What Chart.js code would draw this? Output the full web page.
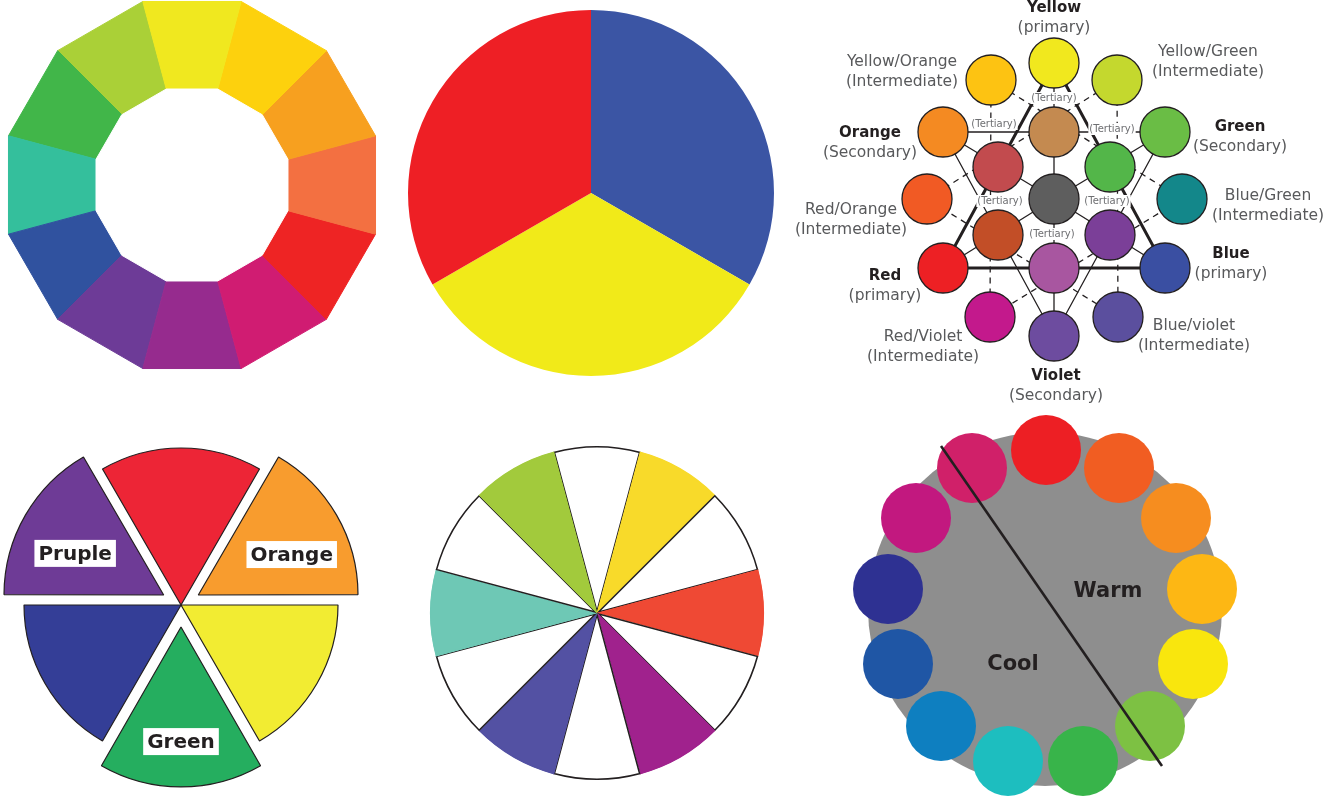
<!DOCTYPE html>
<html>
<head>
<meta charset="utf-8">
<title>Color wheels</title>
<script src="https://cdn.jsdelivr.net/npm/chart.js@4.4.1/dist/chart.umd.min.js"></script>
<style>
  html, body { margin: 0; padding: 0; background: #ffffff; }
  #page { position: relative; width: 1338px; height: 803px; overflow: hidden; background: #ffffff; }
  canvas { position: absolute; }
</style>
</head>
<body>
<div id="page">
  <canvas id="ringWheel" width="380" height="380" style="left:2px;top:-5px"></canvas>
  <canvas id="primaryPie" width="382" height="386" style="left:400px;top:0px"></canvas>
  <canvas id="mixDiagram" width="558" height="405" style="left:780px;top:0px"></canvas>
  <canvas id="explodedPie" width="362" height="370" style="left:0px;top:420px"></canvas>
  <canvas id="splitPie" width="360" height="360" style="left:417px;top:433px"></canvas>
  <canvas id="tempWheel" width="410" height="398" style="left:840px;top:405px"></canvas>
</div>
<script>
/* ---------- data ---------- */
// 1. 12-step ring, clockwise from the top
var ringNames = ["Yellow", "Yellow-Orange", "Orange", "Red-Orange", "Red", "Red-Violet",
  "Violet", "Blue-Violet", "Blue", "Blue-Green", "Green", "Yellow-Green"];
var ringColors = ["#F0E81F", "#FDD10D", "#F7A01F", "#F37041", "#EE2424", "#D01C72",
  "#962B8E", "#6D3B97", "#30529F", "#34BF9C", "#41B649", "#AAD037"];
var ringOuter = 100; // outer corner of each cell
var ringInner = 52.3; // corner of the white hole

// 2. primaries
var primaryNames = ["Blue", "Yellow", "Red"];
var primaryValues = [1, 1, 1];
var primaryColors = ["#3B55A4", "#F1EA19", "#EE1F25"];

// 3. mixing diagram (x right, y up, gray hub at 0,0)
var mixNames = ["Yellow", "Yellow/Green", "Green", "Blue/Green", "Blue", "Blue/violet",
  "Violet", "Red/Violet", "Red", "Red/Orange", "Orange", "Yellow/Orange"];
var mixKinds = ["(primary)", "(Intermediate)", "(Secondary)", "(Intermediate)", "(primary)", "(Intermediate)",
  "(Secondary)", "(Intermediate)", "(primary)", "(Intermediate)", "(Secondary)", "(Intermediate)"];
var mixX = [0, 63, 111, 128, 111, 64, 0, -64, -111, -127, -111, -63];
var mixY = [136, 119, 67, 0, -69, -118, -137, -118, -69, 0, 67, 119];
var mixColors = ["#F1E81E", "#C4D82E", "#6ABD45", "#13878A", "#3A4FA2", "#5B4F9E",
  "#6D4C9F", "#C3198C", "#ED2024", "#F15A24", "#F48A22", "#FDC312"];
var tertX = [0, 56, 56, 0, -56, -56];
var tertY = [67, 32, -36, -69, -36, 32];
var tertColors = ["#C48A50", "#53B649", "#7B3F98", "#A856A0", "#C24E27", "#C24B4E"];
var hubColor = "#5E5E5E";
var primaryTriangle = [0, 8, 4, 0]; // Yellow - Red - Blue
var secondaryTriangle = [2, 6, 10, 2]; // Green - Violet - Orange
var spokes = [0, 2, 4, 6, 8, 10]; // to the hub
var dashTriangleA = [11, 3, 7, 11]; // Yellow/Orange - Blue/Green - Red/Violet
var dashTriangleB = [1, 9, 5, 1]; // Yellow/Green - Red/Orange - Blue/violet

// 4. exploded six-colour pie, clockwise from the top slice
var sixNames = ["Red", "Orange", "Yellow", "Green", "Blue", "Pruple"];
var sixValues = [1, 1, 1, 1, 1, 1];
var sixColors = ["#ED2536", "#F89C2E", "#F2EC32", "#25AE5F", "#343E97", "#6E3B96"];
var sixOffsets = [0, 80, 0, 88, 0, 80];

// 5. split-complement pie, clockwise from the top slice
var splitNames = ["", "Yellow", "", "Red-Orange", "", "Violet", "", "Blue-Violet", "", "Blue-Green", "", "Yellow-Green"];
var splitValues = [1, 1, 1, 1, 1, 1, 1, 1, 1, 1, 1, 1];
var splitColors = ["#FFFFFF", "#F8DA2A", "#FFFFFF", "#EF4934", "#FFFFFF", "#A0228D",
  "#FFFFFF", "#5351A3", "#FFFFFF", "#6EC8B5", "#FFFFFF", "#A2CA3C"];

// 6. warm / cool wheel (x right, y up, gray disc at 0,0)
var tempNames = ["Red", "Red-Orange", "Orange", "Yellow-Orange", "Yellow", "Yellow-Green", "Green",
  "Cyan", "Blue", "Dark Blue", "Indigo", "Magenta", "Crimson"];
var tempX = [1, 74, 131, 157, 148, 105, 38, -37, -104, -147, -157, -129, -73];
var tempY = [159, 141, 91, 20, -55, -117, -152, -152, -117, -55, 20, 91, 141];
var tempColors = ["#ED1F24", "#F15D22", "#F68D1F", "#FDB714", "#F9E60D", "#7DC143", "#38B44A",
  "#1DBEBF", "#0E7FC0", "#1F56A5", "#2E3192", "#C2187F", "#D02069"];
var tempDivider = [{ x: -104, y: 163 }, { x: 117, y: -157 }];
var tempText = [{ text: "Warm", x: 63, y: 17 }, { text: "Cool", x: -32, y: -56 }];

/* ---------- shared bits ---------- */
var FONT = "'DejaVu Sans', sans-serif";
var INK = "#231F20";
var quiet = {
  legend: { display: false },
  tooltip: { enabled: false },
};
function hiddenLinear(min, max) {
  return { type: "linear", min: min, max: max, display: false };
}

/* ---------- 1. ring (radar so the cells get straight edges) ---------- */
var ringDatasets = [
  {
    label: "hole",
    data: ringNames.map(function () { return ringInner; }),
    backgroundColor: "#ffffff",
    borderColor: "#ffffff",
    borderWidth: 1,
    fill: true,
    pointRadius: 0,
  },
];
ringNames.forEach(function (name, i) {
  ringDatasets.push({
    label: name,
    data: ringNames.map(function (n, j) {
      return j === i || j === (i + 1) % ringNames.length ? ringOuter : 0;
    }),
    backgroundColor: ringColors[i],
    borderColor: ringColors[i],
    borderWidth: 1,
    fill: true,
    pointRadius: 0,
  });
});
new Chart(document.getElementById("ringWheel").getContext("2d"), {
  type: "radar",
  data: { labels: ringNames, datasets: ringDatasets },
  options: {
    responsive: false,
    animation: false,
    layout: { padding: 0 },
    plugins: quiet,
    scales: {
      r: { min: 0, max: ringOuter, startAngle: -15, display: false },
    },
  },
});

/* ---------- 2. three primaries ---------- */
new Chart(document.getElementById("primaryPie").getContext("2d"), {
  type: "pie",
  data: {
    labels: primaryNames,
    datasets: [
      {
        data: primaryValues,
        backgroundColor: primaryColors,
        borderWidth: 0,
        radius: 183,
      },
    ],
  },
  options: { responsive: false, animation: false, layout: { padding: 0 }, plugins: quiet },
});

/* ---------- 3. mixing diagram ---------- */
function pathOf(idx) {
  return idx.map(function (i) { return { x: mixX[i], y: mixY[i] }; });
}
function lineSet(points, width, dash) {
  return {
    data: points,
    showLine: true,
    borderColor: INK,
    borderWidth: width,
    borderDash: dash || [],
    pointRadius: 0,
    order: 2,
    clip: false,
  };
}
var mixLines = [
  lineSet(pathOf(primaryTriangle), 3),
  lineSet(pathOf(secondaryTriangle), 1.3),
  lineSet(pathOf(dashTriangleA), 1.3, [6, 5]),
  lineSet(pathOf(dashTriangleB), 1.3, [6, 5]),
];
spokes.forEach(function (i) {
  mixLines.push(lineSet([{ x: mixX[i], y: mixY[i] }, { x: 0, y: 0 }], 1.3));
});
var mixDots = mixX.map(function (x, i) { return { x: x, y: mixY[i] }; })
  .concat(tertX.map(function (x, i) { return { x: x, y: tertY[i] }; }))
  .concat([{ x: 0, y: 0 }]);
var mixDotColors = mixColors.concat(tertColors).concat([hubColor]);

// label layout: name offsets from each circle, "(Tertiary)" offsets from each inner circle
var nameDX = [0, 91, 75, 86, 66, 76, 2, -67, -58, -76, -73, -89];
var nameDY = [55, 28, 5, 3, 14, -9, -40, -20, -8, -11, -1, 18];
var tertDX = [0, 2, -3, -2, 2, -4];
var tertDY = [34, 38, 34, 34, 34, 43];

var mixLabels = {
  id: "mixLabels",
  beforeDatasetDraw: function (chart, args) {
    if (args.index !== 0) return; // circles come next: put the small tags under them
    var ctx = chart.ctx, xs = chart.scales.x, ys = chart.scales.y;
    ctx.save();
    ctx.font = "10px " + FONT;
    ctx.textAlign = "center";
    ctx.textBaseline = "middle";
    tertX.forEach(function (x, i) {
      var px = xs.getPixelForValue(x + tertDX[i]);
      var py = ys.getPixelForValue(tertY[i] + tertDY[i]);
      var w = ctx.measureText("(Tertiary)").width;
      ctx.fillStyle = "#ffffff";
      ctx.fillRect(px - w / 2 - 1, py - 6, w + 2, 12);
      ctx.fillStyle = "#6D6E71";
      ctx.fillText("(Tertiary)", px, py);
    });
    ctx.restore();
  },
  afterDatasetsDraw: function (chart) {
    var ctx = chart.ctx, xs = chart.scales.x, ys = chart.scales.y;
    ctx.save();
    ctx.textAlign = "center";
    ctx.textBaseline = "middle";
    mixNames.forEach(function (name, i) {
      var px = xs.getPixelForValue(mixX[i] + nameDX[i]);
      var py = ys.getPixelForValue(mixY[i] + nameDY[i]);
      var strong = mixKinds[i] !== "(Intermediate)";
      ctx.font = (strong ? "bold 15px " : "15.5px ") + FONT;
      ctx.fillStyle = strong ? INK : "#58595B";
      ctx.fillText(name, px, py);
      ctx.font = "15.5px " + FONT;
      ctx.fillStyle = "#58595B";
      ctx.fillText(mixKinds[i], px, py + 19.5);
    });
    ctx.restore();
  },
};

new Chart(document.getElementById("mixDiagram").getContext("2d"), {
  type: "scatter",
  data: {
    datasets: [
      {
        data: mixDots,
        pointRadius: 25,
        pointBackgroundColor: mixDotColors,
        pointBorderColor: INK,
        pointBorderWidth: 1.3,
        order: 1,
        clip: false,
      },
    ].concat(mixLines),
  },
  options: {
    responsive: false,
    animation: false,
    layout: { padding: 0, autoPadding: false },
    plugins: quiet,
    scales: { x: hiddenLinear(-274, 284), y: hiddenLinear(-206, 199) },
  },
  plugins: [mixLabels],
});

/* ---------- 4. exploded six-colour pie ---------- */
// which slices carry a tag: distance from pie centre (share of radius) and angle (deg from top)
var sixTags = [
  { index: 5, dist: 0.75, angle: 296 },
  { index: 1, dist: 0.775, angle: 65.5 },
  { index: 3, dist: 0.87, angle: 180 },
];
var sixLabels = {
  id: "sixLabels",
  afterDatasetsDraw: function (chart) {
    var ctx = chart.ctx;
    var arc = chart.getDatasetMeta(0).data[0];
    ctx.save();
    ctx.font = "bold 20px " + FONT;
    ctx.textAlign = "center";
    ctx.textBaseline = "middle";
    sixTags.forEach(function (tag) {
      var a = (tag.angle * Math.PI) / 180;
      var d = tag.dist * arc.outerRadius;
      var px = arc.x + Math.sin(a) * d;
      var py = arc.y - Math.cos(a) * d;
      var text = sixNames[tag.index];
      var w = ctx.measureText(text).width;
      ctx.fillStyle = "#ffffff";
      ctx.fillRect(px - w / 2 - 4, py - 13.5, w + 8, 27);
      ctx.fillStyle = INK;
      ctx.fillText(text, px, py + 1);
    });
    ctx.restore();
  },
};
new Chart(document.getElementById("explodedPie").getContext("2d"), {
  type: "pie",
  data: {
    labels: sixNames,
    datasets: [
      {
        data: sixValues,
        backgroundColor: sixColors,
        borderColor: INK,
        borderWidth: 1.2,
        offset: sixOffsets,
        radius: 157,
      },
    ],
  },
  options: {
    responsive: false,
    animation: false,
    rotation: -30,
    layout: { padding: 0 },
    plugins: quiet,
  },
  plugins: [sixLabels],
});

/* ---------- 5. split pie ---------- */
// only the white slices carry the black outline
var splitBorders = splitColors.map(function (c) { return c === "#FFFFFF" ? INK : c; });
new Chart(document.getElementById("splitPie").getContext("2d"), {
  type: "pie",
  data: {
    labels: splitNames,
    datasets: [
      {
        data: splitValues,
        backgroundColor: splitColors,
        borderColor: splitBorders,
        borderWidth: 1.2,
        borderAlign: "inner",
        radius: 167,
      },
    ],
  },
  options: {
    responsive: false,
    animation: false,
    rotation: -15,
    layout: { padding: 0 },
    plugins: quiet,
  },
});

/* ---------- 6. warm / cool ---------- */
var tempLabels = {
  id: "tempLabels",
  afterDatasetsDraw: function (chart) {
    var ctx = chart.ctx, xs = chart.scales.x, ys = chart.scales.y;
    ctx.save();
    ctx.font = "bold 21px " + FONT;
    ctx.fillStyle = INK;
    ctx.textAlign = "center";
    ctx.textBaseline = "middle";
    tempText.forEach(function (t) {
      ctx.fillText(t.text, xs.getPixelForValue(t.x), ys.getPixelForValue(t.y));
    });
    ctx.restore();
  },
};
new Chart(document.getElementById("tempWheel").getContext("2d"), {
  type: "scatter",
  data: {
    datasets: [
      {
        data: tempDivider,
        showLine: true,
        borderColor: INK,
        borderWidth: 2.6,
        pointRadius: 0,
        clip: false,
      },
      {
        data: tempX.map(function (x, i) { return { x: x, y: tempY[i] }; }),
        pointRadius: 35,
        pointBackgroundColor: tempColors,
        pointBorderWidth: 0,
        clip: false,
      },
      {
        data: [{ x: 0, y: 0 }],
        pointRadius: 177,
        pointBackgroundColor: "#8E8E8E",
        pointBorderWidth: 0,
        clip: false,
      },
    ],
  },
  options: {
    responsive: false,
    animation: false,
    layout: { padding: 0, autoPadding: false },
    plugins: quiet,
    scales: { x: hiddenLinear(-205, 205), y: hiddenLinear(-194, 204) },
  },
  plugins: [tempLabels],
});
</script>
</body>
</html>
